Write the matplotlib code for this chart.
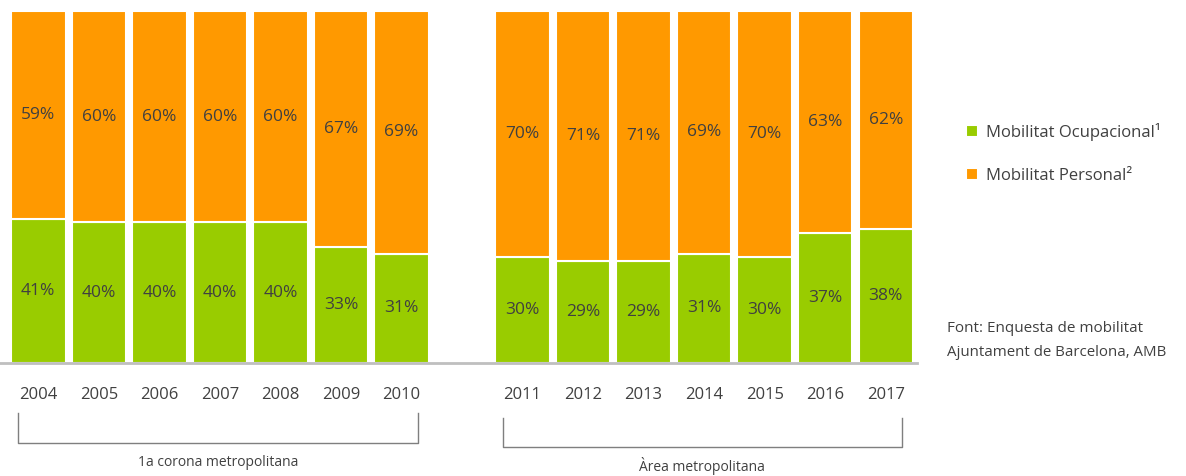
import matplotlib
matplotlib.use("Agg")
import matplotlib.pyplot as plt
import numpy as np

plt.rcParams['font.family'] = ['Open Sans', 'DejaVu Sans']

# data
years = ['2004', '2005', '2006', '2007', '2008', '2009', '2010',
         '2011', '2012', '2013', '2014', '2015', '2016', '2017']
ocupacional = [41, 40, 40, 40, 40, 33, 31, 30, 29, 29, 31, 30, 37, 38]
personal = [59, 60, 60, 60, 60, 67, 69, 70, 71, 71, 69, 70, 63, 62]
groups = ['1a corona metropolitana', 'Àrea metropolitana']
group_sizes = [7, 7]

GREEN = '#99CC00'
ORANGE = '#FF9900'
TXT = '#404040'

# positions: one empty slot between the two groups
xpos = []
start = 0
for n in group_sizes:
    xpos.extend(range(start, start + n))
    start += n + 1
xpos = np.array(xpos)

W, H = 1186, 476
fig = plt.figure(figsize=(W / 100, H / 100), dpi=100)
ax = fig.add_axes([0, 113 / H, 917 / W, 352 / H])

bw = 0.9
ax.bar(xpos, ocupacional, width=bw, color=GREEN, edgecolor='white', linewidth=1.5,
       label='Mobilitat Ocupacional¹')
ax.bar(xpos, personal, width=bw, bottom=ocupacional, color=ORANGE, edgecolor='white',
       linewidth=1.5, label='Mobilitat Personal²')

for x, g, p in zip(xpos, ocupacional, personal):
    ax.text(x, g / 2, f'{g}%', ha='center', va='center', fontsize=12.5, color=TXT)
    ax.text(x, g + p / 2, f'{p}%', ha='center', va='center', fontsize=12.5, color=TXT)

ax.set_xlim(-0.632, 14.516)
ax.set_ylim(0, 100)
ax.set_yticks([])
ax.set_xticks(xpos)
ax.set_xticklabels(years, fontsize=12, color=TXT)
ax.tick_params(axis='x', length=0, pad=17)
for s in ['left', 'right', 'top']:
    ax.spines[s].set_visible(False)
ax.spines['bottom'].set_color('#BFBFBF')
ax.spines['bottom'].set_linewidth(2)

# group brackets
tr = ax.get_xaxis_transform()
start = 0
for name, n, ytop, ybot in zip(groups, group_sizes, [-0.142, -0.156], [-0.227, -0.239]):
    x0 = xpos[start] - 0.33
    x1 = xpos[start + n - 1] + 0.27
    ax.plot([x0, x0, x1, x1], [ytop, ybot, ybot, ytop], transform=tr, clip_on=False,
            color='#7F7F7F', linewidth=1)
    ax.text((x0 + x1) / 2, ybot - 0.055, name, transform=tr, ha='center', va='center',
            fontsize=10, color=TXT)
    start += n

# legend
leg = fig.legend(loc='upper left', bbox_to_anchor=(951 / W, 1 - 108 / H), frameon=False,
                 fontsize=12, labelcolor=TXT, handlelength=0.7, handleheight=0.7,
                 handletextpad=0.5, labelspacing=1.6)

fig.text(947 / W, 1 - 328 / H, 'Font: Enquesta de mobilitat',
         fontsize=11, color=TXT, va='center')
fig.text(947 / W, 1 - 353 / H, 'Ajuntament de Barcelona, AMB',
         fontsize=10.8, color=TXT, va='center')

fig.savefig('out.png', dpi=100)
